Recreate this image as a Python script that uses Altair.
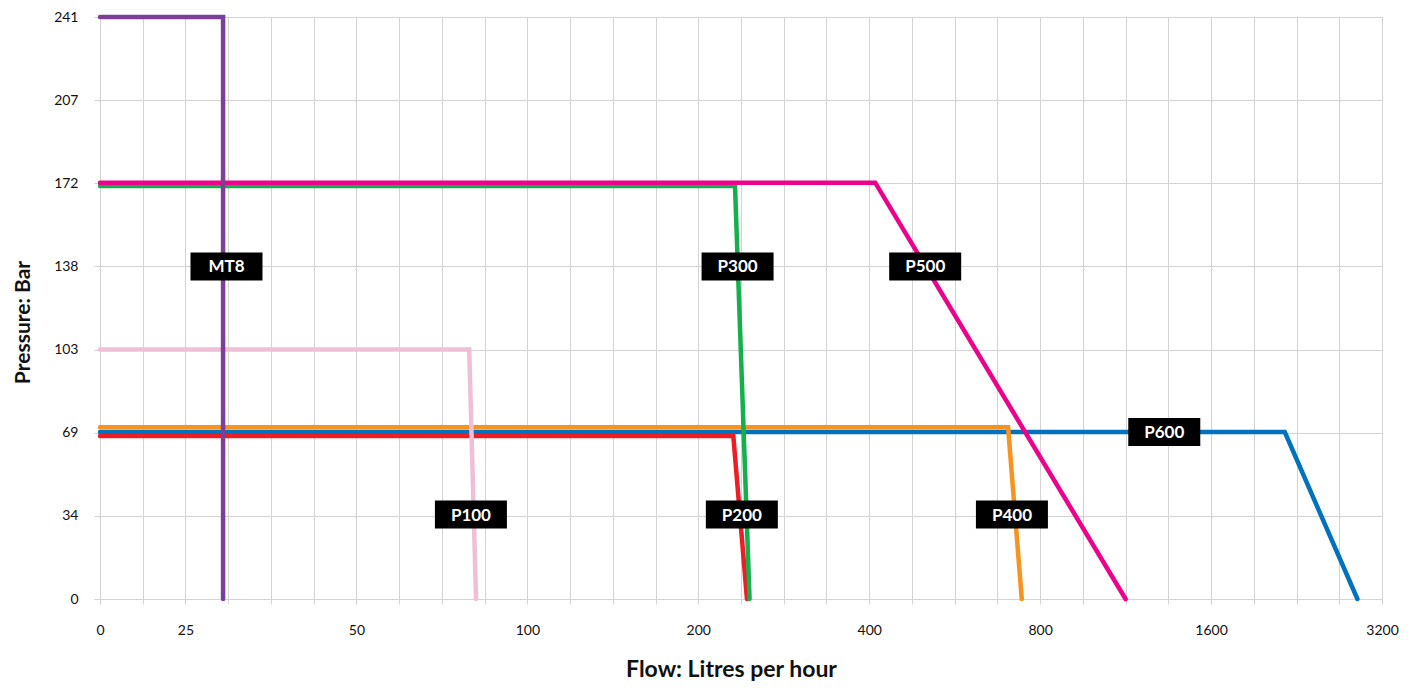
import altair as alt
import pandas as pd

# ---- data ----
x_label_values = [0, 25, 50, 100, 200, 400, 800, 1600, 3200]
x_label_slots = [0, 2, 6, 10, 14, 18, 22, 26, 30]   # grid-line index of each label
y_tick_values = [0, 34.47, 68.95, 103.42, 137.9, 172.37, 206.84, 241.3]

mt8_flow = [0, 30.5, 30.5]
mt8_bar = [241.3, 241.3, 0]
p100_flow = [0, 83, 85]
p100_bar = [103.4, 103.4, 0]
p200_flow = [0, 241, 257]
p200_bar = [67.6, 67.6, 0]
p300_flow = [0, 243, 260]
p300_bar = [171.2, 171.2, 0]
p400_flow = [0, 725, 757]
p400_bar = [71.2, 71.2, 0]
p500_flow = [0, 414, 1200]
p500_bar = [172.6, 172.6, 0]
p600_flow = [0, 2290, 2970]
p600_bar = [69.2, 69.2, 0]

series_names = ["P600", "P200", "P400", "P300", "P100", "P500", "MT8"]  # drawing order
series_colors = ["#0071BC", "#EE1C25", "#F7931E", "#13B04B", "#EEBFD6", "#EC008C", "#7D3F98"]
series_flows = [p600_flow, p200_flow, p400_flow, p300_flow, p100_flow, p500_flow, mt8_flow]
series_bars = [p600_bar, p200_bar, p400_bar, p300_bar, p100_bar, p500_bar, mt8_bar]

label_names = ["MT8", "P300", "P500", "P100", "P200", "P400", "P600"]
label_flow = [31, 246, 531, 83.5, 251, 734, 1381]
label_bar = [137.9, 137.9, 137.9, 35.0, 35.0, 35.0, 69.2]

# ---- layout ----
W, H = 1282, 582
N_SLOTS = 30
x_range = [s * W / N_SLOTS for s in x_label_slots]

x_grid_values = []
for i in range(len(x_label_values) - 1):
    a, b = x_label_values[i], x_label_values[i + 1]
    steps = x_label_slots[i + 1] - x_label_slots[i]
    for k in range(steps):
        x_grid_values.append(a + (b - a) * k / steps)
x_grid_values.append(x_label_values[-1])

GRID = "#d3d3d3"
FONT = "Lato"

x_scale = alt.Scale(domain=x_label_values, range=x_range, nice=False, zero=False)
y_scale = alt.Scale(domain=[0, 241.3], nice=False, zero=True)

label_list = ",".join(str(v) for v in x_label_values)
x_axis = alt.Axis(
    values=x_grid_values,
    format="d",
    labelExpr=f"indexof([{label_list}], datum.value) >= 0 ? datum.label : ''",
    grid=True, gridColor=GRID, gridWidth=1,
    tickColor=GRID, tickSize=5, domainColor=GRID,
    labelPadding=19, labelFontSize=14, labelFont=FONT, labelColor="#111111",
    labelFlush=False, labelOverlap=False,
    title="Flow: Litres per hour", titleFont=FONT, titleFontSize=23,
    titleFontWeight="bold", titleColor="#111111",
    titleX=631, titleY=77, titleAlign="center", titleBaseline="alphabetic",
)
y_axis = alt.Axis(
    values=y_tick_values,
    labelExpr="format(datum.value, '.0f')",
    grid=True, gridColor=GRID, gridWidth=1,
    tickColor=GRID, tickSize=6, domainColor=GRID,
    labelPadding=16, labelFontSize=14, labelFont=FONT, labelColor="#111111",
    labelFlush=False,
    title="Pressure: Bar", titleFont=FONT, titleFontSize=21,
    titleFontWeight="bold", titleColor="#111111",
    titleX=-71, titleY=305, titleAngle=270, titleAlign="center", titleBaseline="alphabetic",
)

X = alt.X("flow:Q", scale=x_scale, axis=x_axis)
Y = alt.Y("bar:Q", scale=y_scale, axis=y_axis)

rows = []
for name, fl, br in zip(series_names, series_flows, series_bars):
    for i, (f, b) in enumerate(zip(fl, br)):
        rows.append({"series": name, "flow": f, "bar": b, "idx": i})
lines_df = pd.DataFrame(rows)

layers = []
for name, col in zip(series_names, series_colors):
    layers.append(
        alt.Chart(lines_df)
        .transform_filter(alt.datum.series == name)
        .mark_line(color=col, strokeWidth=4.5, strokeCap="round", strokeJoin="miter")
        .encode(x=X, y=Y, order="idx:Q")
    )

labels_df = pd.DataFrame({"name": label_names, "flow": label_flow, "bar": label_bar})
boxes = alt.Chart(labels_df).mark_point(
    shape="M-1,-0.389H1V0.389H-1Z", size=72 * 72, filled=True,
    color="black", opacity=1, strokeWidth=0,
).encode(x=X, y=Y)
texts = alt.Chart(labels_df).mark_text(
    color="white", font=FONT, fontSize=17, fontWeight="bold",
    align="center", baseline="middle", dy=1,
).encode(x=X, y=Y, text="name:N")

chart = alt.layer(*layers, boxes, texts).properties(
    width=W, height=H,
    autosize=alt.AutoSizeParams(type="none"),
    padding={"left": 92, "top": 9, "right": 20, "bottom": 82},
    background="white",
).configure_view(strokeWidth=0)

chart.save("out.html", embed_options={"renderer": "svg", "actions": False})
